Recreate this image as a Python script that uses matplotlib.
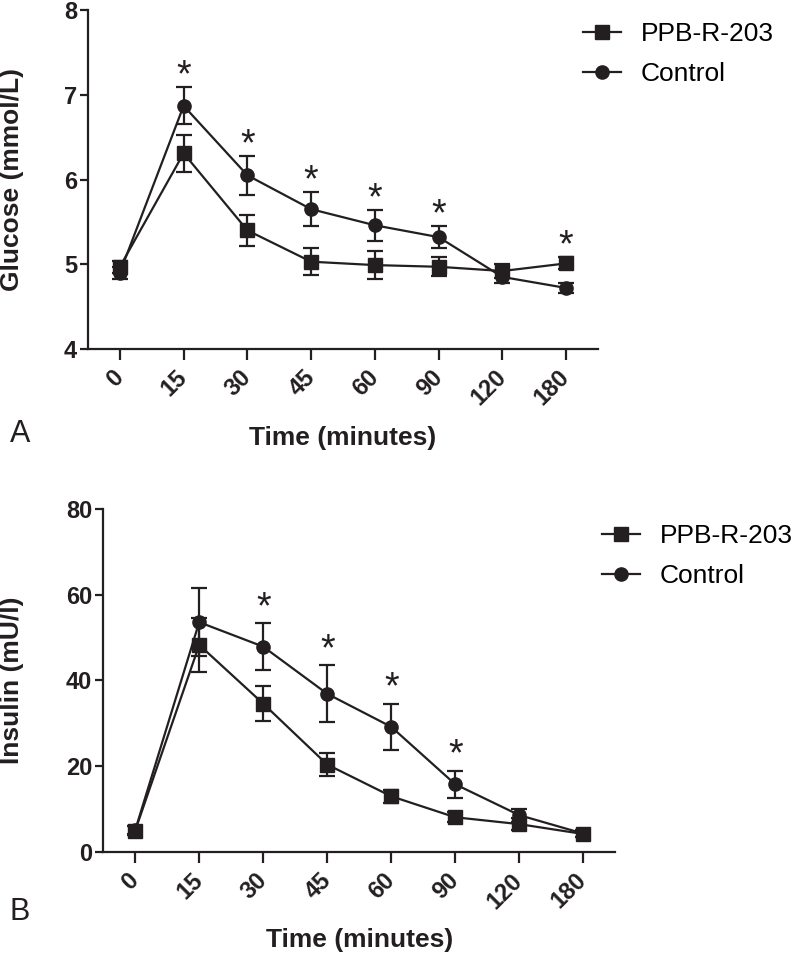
import matplotlib
matplotlib.use("Agg")
import matplotlib.pyplot as plt
from matplotlib.lines import Line2D
import numpy as np

plt.rcParams['font.family'] = ['Liberation Sans', 'DejaVu Sans']

INK = '#231f20'

# Points de temps (axe catégoriel)
time_labels = ['0', '15', '30', '45', '60', '90', '120', '180']

# Panneau A : glucose (mmol/L)
glucose_ppb = [4.97, 6.31, 5.40, 5.03, 4.99, 4.97, 4.92, 5.01]
glucose_ppb_sem = [0.07, 0.22, 0.18, 0.16, 0.17, 0.11, 0.08, 0.07]
glucose_ctrl = [4.90, 6.87, 6.05, 5.65, 5.46, 5.32, 4.85, 4.72]
glucose_ctrl_sem = [0.07, 0.22, 0.23, 0.20, 0.18, 0.13, 0.07, 0.06]
# index des points significatifs, et la série au-dessus de laquelle se trouve l'étoile
glucose_stars = [(1, 'ctrl'), (2, 'ctrl'), (3, 'ctrl'), (4, 'ctrl'), (5, 'ctrl'), (7, 'ppb')]

# Panneau B : insuline (mU/l)
insulin_ppb = [5.0, 48.3, 34.6, 20.4, 13.0, 8.1, 6.5, 4.2]
insulin_ppb_sem = [1.0, 6.3, 4.1, 2.6, 1.5, 1.2, 1.4, 0.8]
insulin_ctrl = [5.1, 53.6, 47.9, 36.9, 29.2, 15.8, 8.6, 4.3]
insulin_ctrl_sem = [1.0, 7.9, 5.4, 6.6, 5.3, 3.1, 1.5, 0.8]
insulin_stars = [(2, 'ctrl'), (3, 'ctrl'), (4, 'ctrl'), (5, 'ctrl')]


def draw_panel(ax, ppb, ppb_sem, ctrl, ctrl_sem, stars, ylim, yticks, ylabel,
               star_offset, ylabel_x, xlabel_y, legend_xy):
    x = np.arange(len(time_labels))
    style = dict(color=INK, lw=1.6, elinewidth=1.6, capsize=5.5, capthick=1.6, markersize=9.5)
    ax.errorbar(x, ppb, yerr=ppb_sem, marker='s', zorder=3, **style)
    ax.errorbar(x, ctrl, yerr=ctrl_sem, marker='o', zorder=3, **style)

    # étoiles de significativité au-dessus des barres d'erreur
    for i, which in stars:
        top = ctrl[i] + ctrl_sem[i] if which == 'ctrl' else ppb[i] + ppb_sem[i]
        ax.annotate('*', xy=(i, top), xytext=(0, star_offset), textcoords='offset points',
                    ha='center', va='baseline', fontsize=27, color=INK)

    ax.set_xlim(-0.5, len(time_labels) - 0.5)
    ax.set_ylim(*ylim)
    ax.set_yticks(yticks)
    ax.set_xticks(x)
    ax.set_xticklabels(time_labels, rotation=45, ha='right', va='center', rotation_mode='anchor')
    for lab in ax.get_xticklabels() + ax.get_yticklabels():
        lab.set_fontweight('bold')
        lab.set_fontsize(17)
        lab.set_color(INK)

    ax.spines['top'].set_visible(False)
    ax.spines['right'].set_visible(False)
    for s in ('left', 'bottom'):
        ax.spines[s].set_linewidth(1.6)
        ax.spines[s].set_color(INK)
    ax.tick_params(axis='y', length=6, width=1.6, color=INK, pad=2)
    ax.tick_params(axis='x', length=8, width=1.6, color=INK, pad=10)

    ax.set_ylabel(ylabel, fontsize=19, fontweight='bold', color=INK)
    ax.yaxis.set_label_coords(ylabel_x, 0.5)
    ax.yaxis.label.set_va('center')
    ax.set_xlabel('Time (minutes)', fontsize=19, fontweight='bold', color=INK)
    ax.xaxis.set_label_coords(0.5, xlabel_y)
    ax.xaxis.label.set_va('center')

    handles = [Line2D([], [], color=INK, lw=1.6, marker='s', markersize=9.5),
               Line2D([], [], color=INK, lw=1.6, marker='o', markersize=9.5)]
    fig.legend(handles, ['PPB-R-203', 'Control'], loc='upper left', bbox_to_anchor=legend_xy,
               frameon=False, fontsize=19, handlelength=1.45, handletextpad=0.75,
               labelspacing=0.62, borderpad=0, borderaxespad=0)


fig = plt.figure(figsize=(8, 9.6), dpi=100)
axA = fig.add_axes([0.11, 0.6365, 0.6375, 0.353])
axB = fig.add_axes([0.129, 0.1125, 0.64, 0.3573])

draw_panel(axA, glucose_ppb, glucose_ppb_sem, glucose_ctrl, glucose_ctrl_sem, glucose_stars,
           (4, 8), [4, 5, 6, 7, 8], 'Glucose (mmol/L)', 0.5,
           -0.149, -0.2625, (583 / 800, 1 - 22 / 960))
draw_panel(axB, insulin_ppb, insulin_ppb_sem, insulin_ctrl, insulin_ctrl_sem, insulin_stars,
           (0, 80), [0, 20, 40, 60, 80], 'Insulin (mU/l)', 4,
           -0.178, -0.2566, (602 / 800, 1 - 524 / 960))

fig.text(0.012, 1 - 434 / 960, 'A', fontsize=22, va='center', color=INK)
fig.text(0.012, 1 - 912 / 960, 'B', fontsize=22, va='center', color=INK)

fig.savefig('out.png', dpi=100)
